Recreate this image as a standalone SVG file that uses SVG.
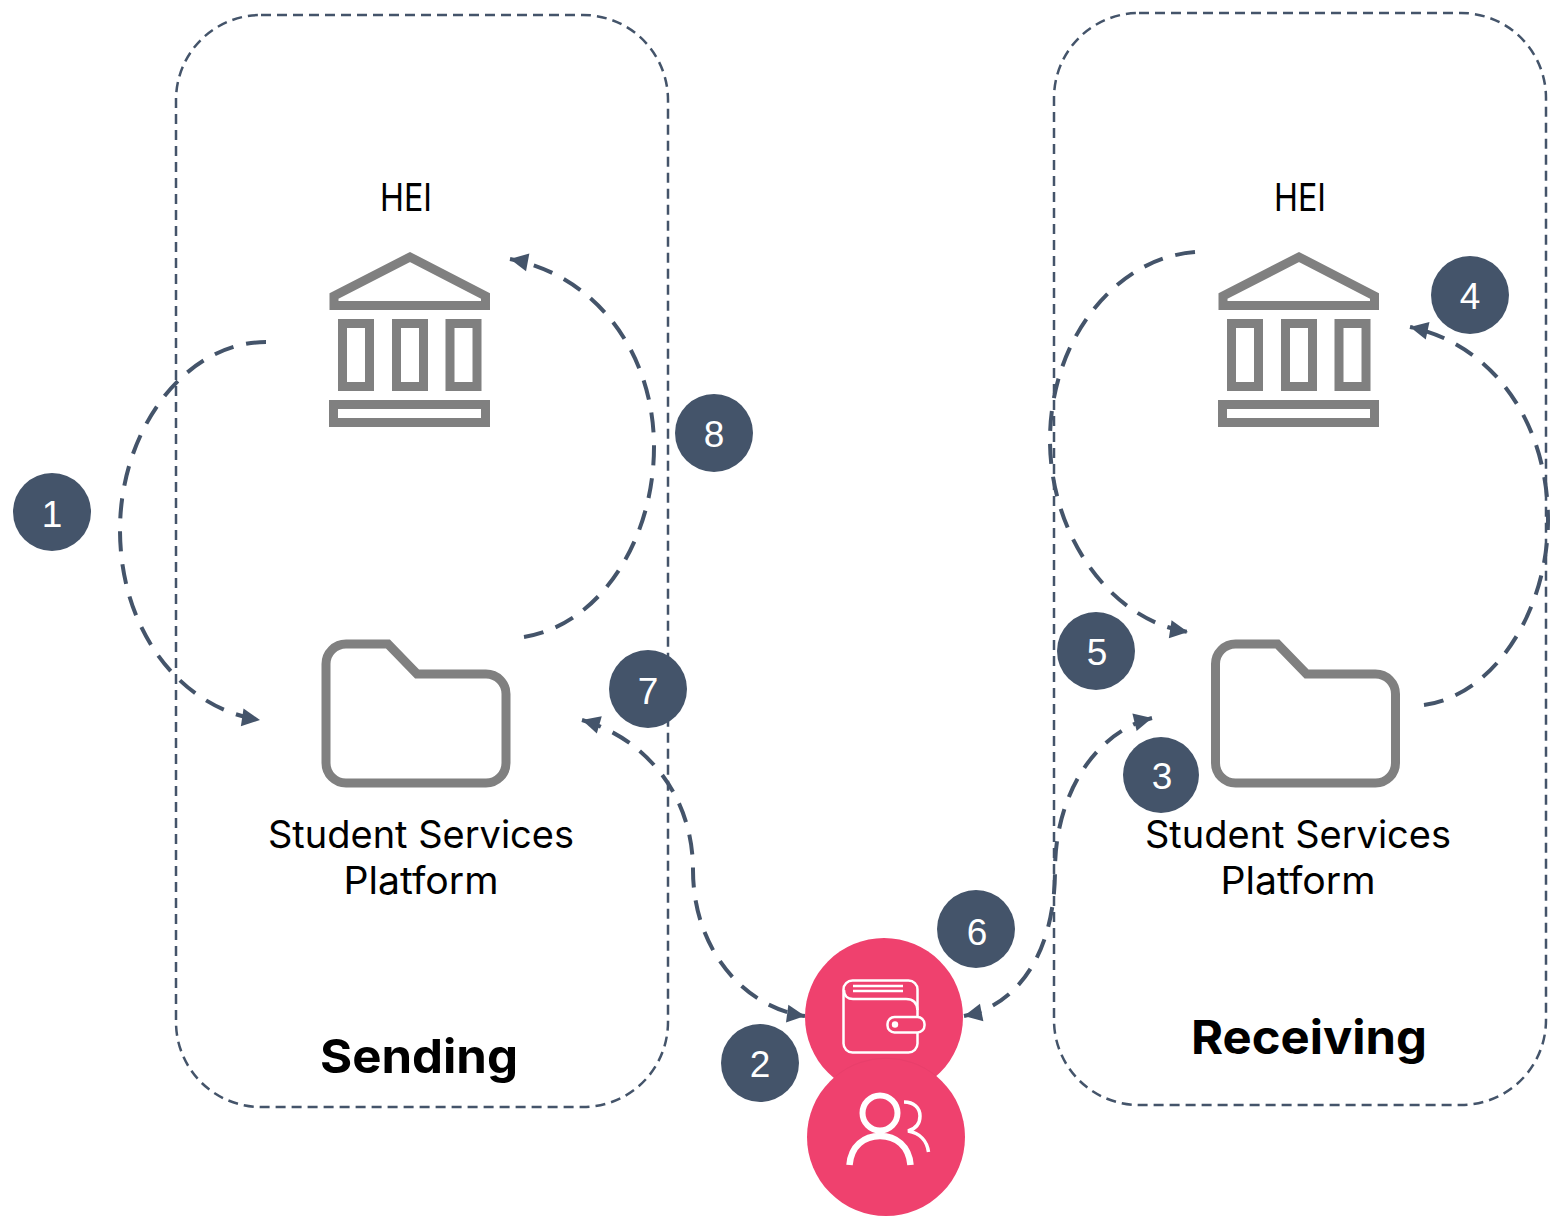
<svg xmlns="http://www.w3.org/2000/svg" width="1550" height="1217" viewBox="0 0 1550 1217">
<style>
.zone{fill:none;stroke:#44546A;stroke-width:2.5;stroke-dasharray:10 6}
.conn{fill:none;stroke:#44546A;stroke-width:4;stroke-dasharray:20 13}
.badge{fill:#44546A}
.num{font-family:"Liberation Sans",Arial,sans-serif;font-size:37px;fill:#fff;text-anchor:middle}
.lbl{font-family:Inter,"Noto Sans",sans-serif;font-size:38px;fill:#000;text-anchor:middle}
.ttl{font-family:Inter,"Noto Sans",sans-serif;font-size:47px;font-weight:700;fill:#000;text-anchor:middle}
.ico{fill:none;stroke:#808080;stroke-width:9}
.pink{fill:#EF416E}
.w{fill:none;stroke:#fff;stroke-width:2.5}
</style>
<defs>
<marker id="arrow" markerUnits="userSpaceOnUse" markerWidth="22" markerHeight="20" refX="19" refY="10" orient="auto-start-reverse" viewBox="0 0 22 20"><path d="M1 1L19 10L1 19Z" fill="#44546A"/></marker>
<g id="bank"><path class="ico" d="M410 257L334 296V305.500H485.500V296Z"/><rect class="ico" x="342.500" y="323.500" width="27" height="63"/><rect class="ico" x="396.500" y="323.500" width="27" height="63"/><rect class="ico" x="450" y="323.500" width="27" height="63"/><rect class="ico" x="333.500" y="404.500" width="152" height="18"/></g>
<path id="folder" class="ico" d="M346 644H388L417 674H486A20 20 0 0 1 506 694V763A20 20 0 0 1 486 783H346A20 20 0 0 1 326 763V664A20 20 0 0 1 346 644Z"/>
</defs>
<g id="zone-sending"><rect class="zone" x="176" y="15" width="492" height="1092" rx="85" ry="85"/><text class="ttl" x="419" y="1073" textLength="198" lengthAdjust="spacingAndGlyphs">Sending</text></g>
<g id="zone-receiving"><rect class="zone" x="1054" y="13" width="492" height="1092" rx="85" ry="85"/><text class="ttl" x="1309" y="1054" textLength="236" lengthAdjust="spacingAndGlyphs">Receiving</text></g>
<g id="hei-sending"><text class="lbl" x="406" y="211" textLength="52" lengthAdjust="spacingAndGlyphs">HEI</text><use href="#bank"/></g>
<g id="hei-receiving"><text class="lbl" x="1300" y="211" textLength="52" lengthAdjust="spacingAndGlyphs">HEI</text><use href="#bank" x="889"/></g>
<g id="platform-sending"><use href="#folder"/><text class="lbl" x="421" y="848" textLength="306" lengthAdjust="spacingAndGlyphs">Student Services</text><text class="lbl" x="421" y="894" textLength="155" lengthAdjust="spacingAndGlyphs">Platform</text></g>
<g id="platform-receiving"><use href="#folder" x="889.500"/><text class="lbl" x="1298" y="848" textLength="306" lengthAdjust="spacingAndGlyphs">Student Services</text><text class="lbl" x="1298" y="894" textLength="155" lengthAdjust="spacingAndGlyphs">Platform</text></g>
<g id="connectors">
<path class="conn" marker-end="url(#arrow)" d="M266 342C185 342 120 430 120 530C120 630 180 708 260 720"/>
<path class="conn" marker-end="url(#arrow)" d="M524 637C600 625 654 540 654 447C654 352 595 275 510 259"/>
<path class="conn" marker-end="url(#arrow)" d="M1424 705C1495 695 1548 610 1548 520C1548 425 1495 345 1410 327"/>
<path class="conn" marker-end="url(#arrow)" d="M1195 252C1115 258 1050 340 1050 440C1050 535 1110 620 1188 632"/>
<path class="conn" marker-start="url(#arrow)" marker-end="url(#arrow)" d="M582 720C645 738 693 795 693 870C693 950 745 1008 805 1016"/>
<path class="conn" marker-start="url(#arrow)" marker-end="url(#arrow)" d="M1152 718C1095 732 1055 795 1055 870C1055 950 1020 1005 964 1016"/>
</g>
<g id="wallet"><circle class="pink" cx="884" cy="1017" r="79"/>
<rect class="w" x="843.500" y="980.500" width="74" height="72" rx="9"/>
<path class="w" d="M844 990C844 996 848 999 853 999H906C913 999 917 1003 917.500 1010"/>
<path class="w" d="M853 986H903M853 991H903" stroke-width="2"/>
<rect x="887.500" y="1017" width="37" height="15.500" rx="7" fill="#EF416E" stroke="#fff" stroke-width="2.500"/>
<circle cx="895" cy="1024.500" r="3.200" fill="#fff"/></g>
<g id="users"><circle class="pink" cx="886" cy="1137" r="79"/>
<path d="M836 1076A79 79 0 0 1 936 1076" fill="none" stroke="#E83F6B" stroke-width="1"/>
<circle cx="880" cy="1113" r="17.500" fill="none" stroke="#fff" stroke-width="6"/>
<path d="M849.500 1165C851 1146 864 1136 880 1136C896 1136 909 1146 910.500 1165" fill="none" stroke="#fff" stroke-width="6.500"/>
<path d="M904 1102C914 1102 920 1108 920 1116C920 1124 915 1129 908 1131C920 1133 927 1141 928.500 1152" fill="none" stroke="#fff" stroke-width="3.500"/></g>
<g id="badge-1"><circle class="badge" cx="52" cy="512" r="39"/><text class="num" x="52" y="527">1</text></g>
<g id="badge-2"><circle class="badge" cx="760" cy="1063" r="39"/><text class="num" x="760" y="1077">2</text></g>
<g id="badge-3"><circle class="badge" cx="1161" cy="775" r="38"/><text class="num" x="1162" y="789">3</text></g>
<g id="badge-4"><circle class="badge" cx="1470" cy="295" r="39"/><text class="num" x="1470" y="309">4</text></g>
<g id="badge-5"><circle class="badge" cx="1096" cy="651" r="39"/><text class="num" x="1097" y="665">5</text></g>
<g id="badge-6"><circle class="badge" cx="976" cy="929" r="39"/><text class="num" x="977" y="945">6</text></g>
<g id="badge-7"><circle class="badge" cx="648" cy="689" r="39"/><text class="num" x="648" y="704">7</text></g>
<g id="badge-8"><circle class="badge" cx="714" cy="433" r="39"/><text class="num" x="714" y="447">8</text></g>
</svg>
